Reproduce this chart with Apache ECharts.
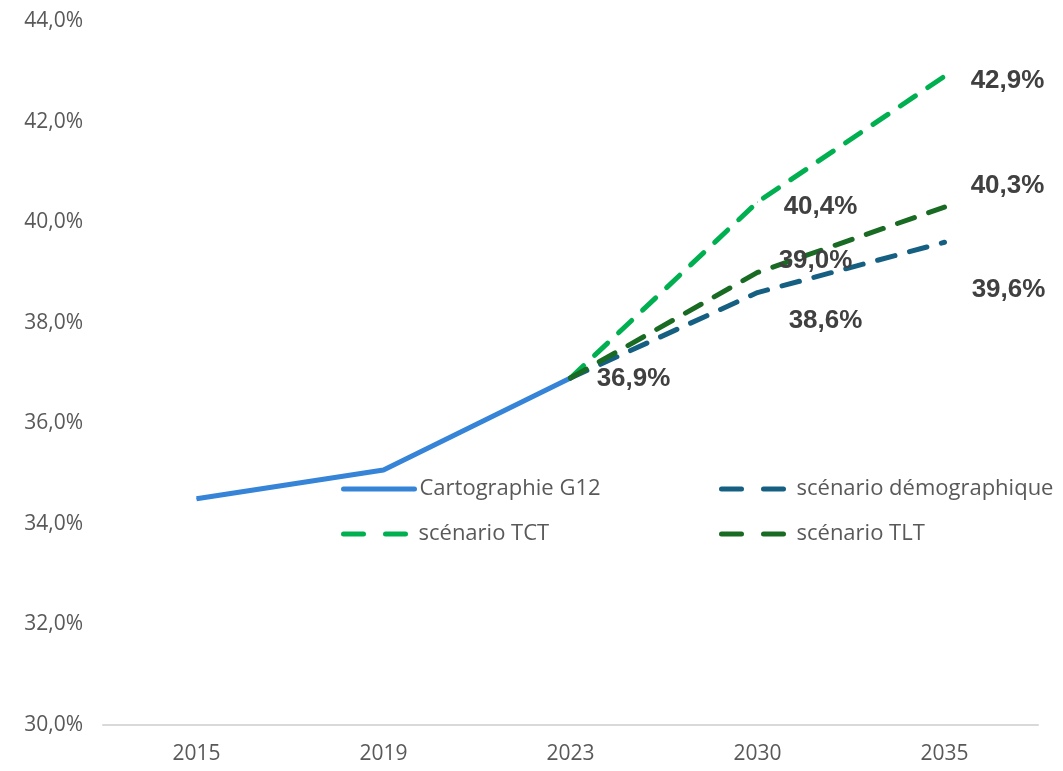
<!DOCTYPE html>
<html>
<head>
<meta charset="utf-8">
<script src="https://cdn.jsdelivr.net/npm/echarts@6/dist/echarts.min.js"></script>
<style>
  html, body { margin: 0; padding: 0; background: #fff; }
  #chart { width: 1063px; height: 771px; }
</style>
</head>
<body>
<div id="chart"></div>
<script>
const years = ['2015', '2019', '2023', '2030', '2035'];
const g12 = [34.5, 35.07, 36.9, null, null];
const tct = [null, null, 36.9, 40.4, 42.9];
const demo = [null, null, 36.9, 38.6, 39.6];
const tlt = [null, null, 36.9, 39.0, 40.3];

// label offsets (px) next to each labelled point
const tctOffsets = [null, null, null, [63, 5], [63, 5]];
const demoOffsets = [null, null, null, [68, 28], [64, 48]];
const tltOffsets = [null, null, null, [58, -12], [63, -21]];
const g12Offsets = [null, null, [63, 1], null, null];

const fmt = v => v.toFixed(1).replace('.', ',') + '%';

function withLabels(values, offsets) {
  return values.map((v, i) => {
    if (v == null) return null;
    const off = offsets[i];
    return {
      value: v,
      label: off ? { show: true, position: 'inside', offset: off } : { show: false }
    };
  });
}

const labelStyle = {
  formatter: p => fmt(p.value),
  color: '#404040',
  fontSize: 26,
  fontWeight: 'bold',
  fontFamily: 'Liberation Sans, Arial, sans-serif'
};

function dashed(name, color, values, offsets) {
  return {
    name: name,
    type: 'line',
    data: withLabels(values, offsets),
    symbol: 'circle',
    symbolSize: 1,
    itemStyle: { color: color },
    lineStyle: { color: color, width: 5, type: [18, 15], cap: 'round' },
    label: labelStyle,
    connectNulls: false
  };
}

const legendText = { color: '#595959', fontSize: 22, fontFamily: 'Open Sans, Liberation Sans, sans-serif' };
const solidLegend = {
  orient: 'horizontal',
  padding: 0,
  itemWidth: 71,
  itemHeight: 14,
  itemGap: 6,
  itemStyle: { opacity: 0 },
  lineStyle: { width: 5, cap: 'round' },
  textStyle: legendText
};
const dashLegend = Object.assign({}, solidLegend, {
  itemWidth: 70,
  lineStyle: { width: 5, type: [20, 22], cap: 'round' }
});

const axisFont = 'Open Sans, Liberation Sans, sans-serif';

const chart = echarts.init(document.getElementById('chart'));
chart.setOption({
  animation: false,
  backgroundColor: '#fff',
  grid: { left: 103, right: 25, top: 21, bottom: 46, containLabel: false },
  legend: [
    Object.assign({}, solidLegend, { data: ['Cartographie G12'], left: 341, top: 478 }),
    Object.assign({}, dashLegend, { data: ['scénario démographique'], left: 719, top: 478 }),
    Object.assign({}, dashLegend, { data: ['scénario TCT'], left: 341, top: 523 }),
    Object.assign({}, dashLegend, { data: ['scénario TLT'], left: 719, top: 523 })
  ],
  xAxis: {
    type: 'category',
    data: years,
    boundaryGap: true,
    axisLine: { lineStyle: { color: '#d9d9d9', width: 2 } },
    axisTick: { show: false },
    axisLabel: { color: '#595959', fontSize: 21, margin: 19, fontFamily: axisFont }
  },
  yAxis: {
    type: 'value',
    min: 30,
    max: 44,
    interval: 2,
    splitLine: { show: false },
    axisLine: { show: false },
    axisTick: { show: false },
    axisLabel: {
      color: '#595959', fontSize: 21, margin: 20,
      fontFamily: axisFont,
      formatter: v => fmt(v)
    }
  },
  series: [
    {
      name: 'Cartographie G12',
      type: 'line',
      data: withLabels(g12, g12Offsets),
      symbol: 'circle',
      symbolSize: 1,
      itemStyle: { color: '#3584d8' },
      lineStyle: { color: '#3584d8', width: 5 },
      label: labelStyle
    },
    dashed('scénario TCT', '#00b050', tct, tctOffsets),
    dashed('scénario démographique', '#156082', demo, demoOffsets),
    dashed('scénario TLT', '#196b24', tlt, tltOffsets)
  ]
});
</script>
</body>
</html>
